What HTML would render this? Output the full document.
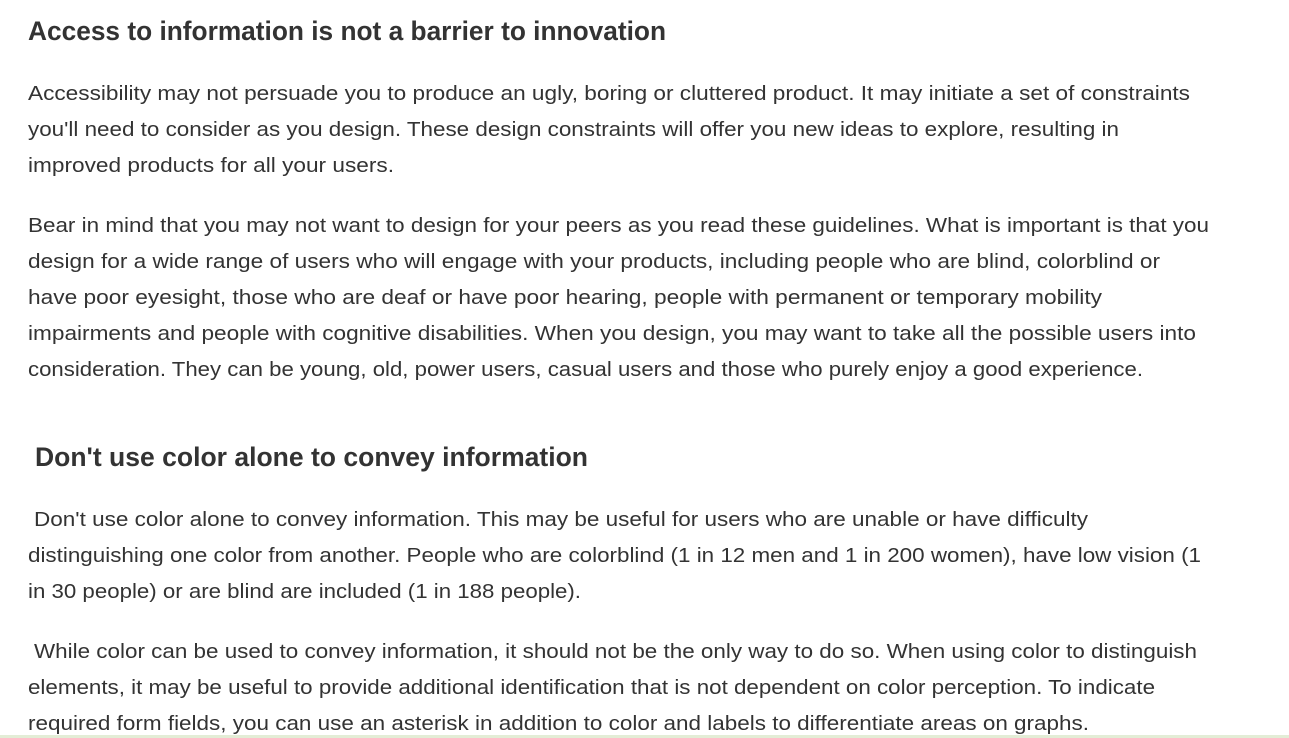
<!DOCTYPE html>
<html><head><meta charset="utf-8"><style>
html,body{margin:0;padding:0;background:#fff;width:1289px;height:738px;overflow:hidden}
svg{position:absolute;left:0;top:0}
text{font-family:"Liberation Sans",sans-serif;fill:#333}
.h{font-size:27px;font-weight:bold;fill:#333}
.p{font-size:20px}
</style></head><body>
<svg width="1289" height="738">
<g><text class="h" x="28" y="40" textLength="638" lengthAdjust="spacingAndGlyphs">Access to information is not a barrier to innovation</text></g>
<g class="p">
<text class="p" x="28" y="100" textLength="1162" lengthAdjust="spacingAndGlyphs">Accessibility may not persuade you to produce an ugly, boring or cluttered product. It may initiate a set of constraints</text>
<text class="p" x="28" y="136" textLength="1091" lengthAdjust="spacingAndGlyphs">you'll need to consider as you design. These design constraints will offer you new ideas to explore, resulting in</text>
<text class="p" x="28" y="172" textLength="366" lengthAdjust="spacingAndGlyphs">improved products for all your users.</text>
</g>
<g>
<text class="p" x="28" y="232" textLength="1181" lengthAdjust="spacingAndGlyphs">Bear in mind that you may not want to design for your peers as you read these guidelines. What is important is that you</text>
<text class="p" x="28" y="268" textLength="1132" lengthAdjust="spacingAndGlyphs">design for a wide range of users who will engage with your products, including people who are blind, colorblind or</text>
<text class="p" x="28" y="304" textLength="1074" lengthAdjust="spacingAndGlyphs">have poor eyesight, those who are deaf or have poor hearing, people with permanent or temporary mobility</text>
<text class="p" x="28" y="340" textLength="1168" lengthAdjust="spacingAndGlyphs">impairments and people with cognitive disabilities. When you design, you may want to take all the possible users into</text>
<text class="p" x="28" y="376" textLength="1115" lengthAdjust="spacingAndGlyphs">consideration. They can be young, old, power users, casual users and those who purely enjoy a good experience.</text>
</g>
<g><text class="h" x="35" y="466" textLength="553" lengthAdjust="spacingAndGlyphs">Don't use color alone to convey information</text></g>
<g>
<text class="p" x="34" y="526" textLength="1054" lengthAdjust="spacingAndGlyphs">Don't use color alone to convey information. This may be useful for users who are unable or have difficulty</text>
<text class="p" x="28" y="562" textLength="1173" lengthAdjust="spacingAndGlyphs">distinguishing one color from another. People who are colorblind (1 in 12 men and 1 in 200 women), have low vision (1</text>
<text class="p" x="28" y="598" textLength="553" lengthAdjust="spacingAndGlyphs">in 30 people) or are blind are included (1 in 188 people).</text>
</g>
<g>
<text class="p" x="34" y="658" textLength="1163" lengthAdjust="spacingAndGlyphs">While color can be used to convey information, it should not be the only way to do so. When using color to distinguish</text>
<text class="p" x="28" y="694" textLength="1127" lengthAdjust="spacingAndGlyphs">elements, it may be useful to provide additional identification that is not dependent on color perception. To indicate</text>
<text class="p" x="28" y="730" textLength="1061" lengthAdjust="spacingAndGlyphs">required form fields, you can use an asterisk in addition to color and labels to differentiate areas on graphs.</text>
</g>
<rect x="0" y="735" width="1289" height="3" fill="#e3edd6"/>
</svg>
</body></html>
